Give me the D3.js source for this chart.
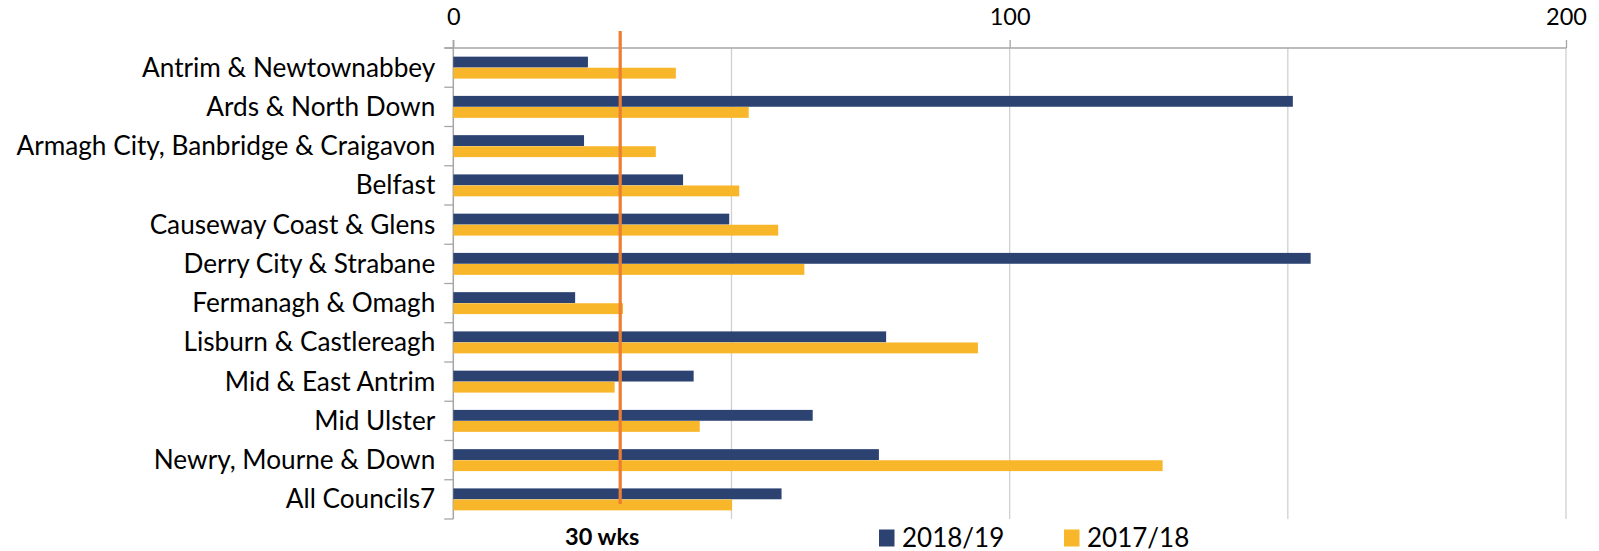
<!DOCTYPE html>
<html>
<head>
<meta charset="utf-8">
<script src="https://cdn.jsdelivr.net/npm/d3@7"></script>
<style>
  html, body { margin: 0; padding: 0; background: #fff; }
  svg { display: block; }
  text { font-family: Lato, "Open Sans", sans-serif; fill: #000; }
</style>
</head>
<body>
<svg id="chart" width="1599" height="551"></svg>
<script>
const categories = [
  "Antrim & Newtownabbey",
  "Ards & North Down",
  "Armagh City, Banbridge & Craigavon",
  "Belfast",
  "Causeway Coast & Glens",
  "Derry City & Strabane",
  "Fermanagh & Omagh",
  "Lisburn & Castlereagh",
  "Mid & East Antrim",
  "Mid Ulster",
  "Newry, Mourne & Down",
  "All Councils7"
];
const seriesNames = ["2018/19", "2017/18"];
const values2018 = [24.2, 150.9, 23.5, 41.3, 49.6, 154.1, 21.9, 77.8, 43.2, 64.6, 76.5, 59.0];
const values2017 = [40.0, 53.1, 36.4, 51.4, 58.4, 63.1, 30.5, 94.3, 29.0, 44.3, 127.5, 50.1];
const xTickLabels = [0, 100, 200];
const gridValues = [50, 100, 150, 200];
const targetValue = 30;
const targetLabel = "30 wks";

const colors = { "2018/19": "#2C4372", "2017/18": "#F8B62B" };

(function () {
const svg = d3.select("#chart");
const pL = 453.3, pR = 1566, pT = 48, pB = 519;

const x = d3.scaleLinear().domain([0, 200]).range([pL, pR]);
const y = d3.scaleBand().domain(categories).range([pT, pB]).paddingInner(0).paddingOuter(0);
const ySub = d3.scaleBand().domain(seriesNames).range([0, y.bandwidth()]).paddingInner(0.02).paddingOuter(0.78);

// gridlines
svg.append("g").selectAll("line").data(gridValues).join("line")
  .attr("x1", d => x(d)).attr("x2", d => x(d))
  .attr("y1", pT).attr("y2", pB)
  .attr("stroke", "#d0d0d0").attr("stroke-width", 1.3);

// top axis
const xAxis = d3.axisTop(x).tickValues(xTickLabels).tickSize(8).tickPadding(15.5).tickFormat(d3.format("d"));
const gx = svg.append("g").attr("transform", `translate(0,${pT})`).call(xAxis);
gx.select(".domain").remove();
gx.append("line").attr("x1", pL - 9).attr("x2", pR).attr("y1", 0).attr("y2", 0)
  .attr("stroke", "#a6a6a6").attr("stroke-width", 1.5);
gx.selectAll(".tick line").attr("stroke", "#a6a6a6").attr("stroke-width", 1.3);
gx.selectAll(".tick text").attr("dy", "0").style("font-size", "23.5px").style("font-family", "Lato").attr("fill", "#000");

// left axis
const gy = svg.append("g").attr("transform", `translate(${pL},0)`);
gy.append("line").attr("x1", 0).attr("x2", 0).attr("y1", pT - 8).attr("y2", pB)
  .attr("stroke", "#a6a6a6").attr("stroke-width", 1.5);
const boundaries = categories.map(c => y(c)).concat([pB]);
gy.selectAll("line.tk").data(boundaries).join("line").attr("class", "tk")
  .attr("x1", -9).attr("x2", 0).attr("y1", d => d).attr("y2", d => d)
  .attr("stroke", "#a6a6a6").attr("stroke-width", 1.3);
gy.selectAll("text").data(categories).join("text")
  .attr("x", -18)
  .attr("y", d => y(d) + y.bandwidth() / 2)
  .attr("dy", "0.34em")
  .attr("text-anchor", "end")
  .style("font-size", "26.2px")
  .text(d => d);

// bars
const rows = categories.map((c, i) => ({ cat: c, vals: [
  { s: seriesNames[0], v: values2018[i] },
  { s: seriesNames[1], v: values2017[i] }
]}));
const g = svg.append("g");
g.selectAll("g").data(rows).join("g")
  .attr("transform", d => `translate(0,${y(d.cat)})`)
  .selectAll("rect").data(d => d.vals).join("rect")
  .attr("x", x(0))
  .attr("y", d => ySub(d.s))
  .attr("width", d => x(d.v) - x(0))
  .attr("height", ySub.bandwidth())
  .attr("fill", d => colors[d.s]);

// target line
svg.append("line")
  .attr("x1", x(targetValue)).attr("x2", x(targetValue))
  .attr("y1", pT - 17).attr("y2", pB - 15)
  .attr("stroke", "#ED7D31").attr("stroke-width", 3.2);

// target label
svg.append("text")
  .attr("x", x(targetValue) - 18).attr("y", 545)
  .attr("text-anchor", "middle")
  .style("font-size", "23.5px").style("font-weight", "bold")
  .text(targetLabel);

// legend
const legendX = [879, 1064];
const lg = svg.append("g");
seriesNames.forEach((s, i) => {
  lg.append("rect").attr("x", legendX[i]).attr("y", 529.5).attr("width", 15.5).attr("height", 17)
    .attr("fill", colors[s]);
  lg.append("text").attr("x", legendX[i] + 23).attr("y", 546.5)
    .style("font-size", "26px").text(s);
});
})();
</script>
</body>
</html>
